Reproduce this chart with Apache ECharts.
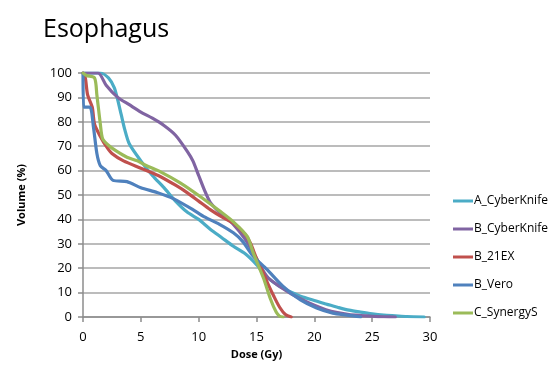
<!DOCTYPE html>
<html>
<head>
<meta charset="utf-8">
<script src="https://cdn.jsdelivr.net/npm/echarts@6/dist/echarts.min.js"></script>
<style>
html,body{margin:0;padding:0;background:#fff;}
#chart{width:559px;height:386px;}
</style>
</head>
<body>
<div id="chart"></div>
<script>
var seriesNames = ['A_CyberKnife','B_CyberKnife','B_21EX','B_Vero','C_SynergyS'];
var seriesColors = ['#4BACC6','#8064A2','#C0504D','#4F81BD','#9BBB59'];
var xTicks = [0,5,10,15,20,25,30];
var yTicks = [0,10,20,30,40,50,60,70,80,90,100];

// [dose (Gy), volume (%)]
var aCyberKnife = [[0,100],[1.5,100],[2.2,98],[2.7,94],[3,89],[3.3,83],[3.6,77],[4,71],[5,64],[6,58],[7,53],[8,47.5],[9,43],[10,40],[11,36],[12,32.5],[13,29],[14,26],[15,21.5],[16,16],[17,12.5],[18,10.2],[19,8.2],[20,6.8],[21,5.3],[22,4],[23,2.8],[24,2],[25,1.3],[26,0.8],[27,0.5],[28,0.2],[29.5,0]];
var bCyberKnife = [[0,100],[1.3,100],[2,95],[3,90],[4,87],[5,84],[6,81.5],[7,78.5],[8,74.5],[9,68],[9.5,64],[10,58],[10.5,52],[11,47],[12,42],[13,38],[14,32],[15,24],[15.5,19.5],[16,16],[17,12.5],[18,9.5],[19,7],[20,4.8],[21,3],[22,1.8],[23,1],[24,0.6],[25,0.3],[26,0.1],[27,0]];
var b21EX = [[0,100],[0.2,98],[0.4,91],[0.8,86],[1,79],[1.5,74],[2,70],[2.5,67],[3.5,64],[5,61],[6.5,58],[8,54],[9,51],[10,47.5],[11,44],[12,41],[13,38.5],[14,34],[14.5,30],[15,24],[15.5,19],[16,13.5],[16.5,8.5],[17,4],[17.5,1],[18,0]];
var bVero = [[0,100],[0.05,86],[0.6,86],[0.9,78],[1.2,67],[1.5,62],[2,60],[2.6,56],[3.8,55.5],[5,53],[6.4,51],[7.8,48.5],[9.5,44],[10.5,41],[11.8,38],[13,34.5],[13.8,31],[14.7,25],[15.9,19.5],[17.3,12.5],[18.8,7],[20.2,3.7],[21.6,1.6],[22.8,0.8],[24,0]];
var cSynergyS = [[0,100],[0.3,99],[1,98],[1.2,91],[1.5,79],[1.7,73],[2.3,70],[2.9,68],[3.8,65.5],[4.7,64],[5.5,62],[6.7,59.5],[8.4,55],[10.1,49.5],[11.8,43.5],[13,39],[14.2,33],[14.7,26.5],[15.6,16],[16.2,7.5],[16.7,2],[17,0.3],[17.3,0]];

var seriesData = [aCyberKnife,bCyberKnife,b21EX,bVero,cSynergyS];

var chart = echarts.init(document.getElementById('chart'));
var font = 'Open Sans, Liberation Sans, sans-serif';
chart.setOption({
  animation:false,
  backgroundColor:'#fff',
  title:{text:'Esophagus',left:38,top:12,textStyle:{fontFamily:font,fontSize:25,fontWeight:'normal',color:'#000'}},
  grid:{left:83,right:129,top:73,bottom:69},
  legend:{
    orient:'vertical',left:448,top:190,itemGap:16,itemWidth:20,itemHeight:3,icon:'rect',
    textStyle:{fontFamily:font,fontSize:12,color:'#000',padding:[0,0,0,-4]},
    data:seriesNames
  },
  xAxis:{type:'value',min:0,max:30,interval:5,
    name:'Dose (Gy)',nameLocation:'middle',nameGap:31,
    nameTextStyle:{fontFamily:font,fontSize:11,fontWeight:'bold',color:'#000'},
    axisLine:{lineStyle:{color:'#8c8c8c',width:1.5}},
    axisTick:{show:true,length:5,lineStyle:{color:'#8c8c8c',width:1.5}},
    axisLabel:{fontFamily:font,fontSize:13,color:'#000',margin:14,formatter:function(v){return xTicks.indexOf(v)>=0?String(v):'';}},
    splitLine:{show:false}
  },
  yAxis:{type:'value',min:0,max:100,interval:10,
    name:'Volume (%)',nameLocation:'middle',nameGap:56,nameRotate:90,
    nameTextStyle:{fontFamily:font,fontSize:11,fontWeight:'bold',color:'#000'},
    axisLine:{show:true,lineStyle:{color:'#8c8c8c',width:1.5}},
    axisTick:{show:true,length:5,lineStyle:{color:'#8c8c8c',width:1.5}},
    axisLabel:{fontFamily:font,fontSize:13,color:'#000',margin:11,formatter:function(v){return yTicks.indexOf(v)>=0?String(v):'';}},
    splitLine:{show:true,lineStyle:{color:'#a6a6a6',width:1.5}}
  },
  series:seriesNames.map(function(n,i){
    return {name:n,type:'line',data:seriesData[i],showSymbol:false,symbol:'none',
      smooth:0.25,
      lineStyle:{color:seriesColors[i],width:3.2,join:'round',cap:'round'},itemStyle:{color:seriesColors[i]}};
  })
});
</script>
</body>
</html>
